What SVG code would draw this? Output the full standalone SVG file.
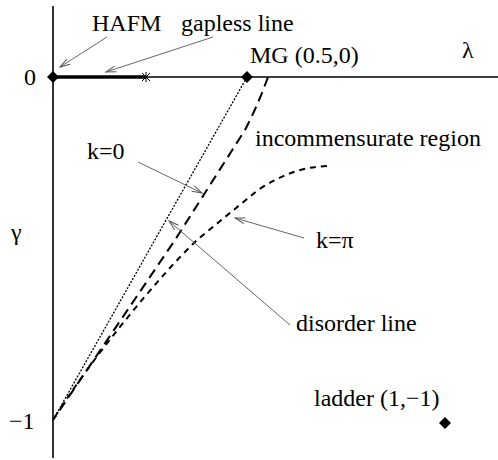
<svg xmlns="http://www.w3.org/2000/svg" width="498" height="460" viewBox="0 0 498 460">
<style>
text{font-family:"Liberation Serif","Times New Roman",serif;font-size:24px;fill:#000}
.ax{stroke:#000;stroke-width:1.6;fill:none}
.lbl{stroke:#666;stroke-width:1;fill:none;marker-end:url(#ah)}
.curve{stroke:#000;fill:none}
</style>
<defs>
<marker id="ah" markerWidth="12" markerHeight="8" refX="11" refY="4" orient="auto" markerUnits="userSpaceOnUse">
<path d="M1,1 L11,4 L1,7" fill="none" stroke="#555" stroke-width="1"/>
</marker>
<path id="dia" d="M0,-6 L6,0 L0,6 L-6,0 Z" fill="#000"/>
</defs>
<g id="axes">
<line class="ax" x1="53" y1="6" x2="53" y2="458"/>
<line class="ax" x1="53" y1="77" x2="498" y2="77" stroke-width="1.4"/>
<line x1="53" y1="77" x2="146" y2="77" stroke="#000" stroke-width="3.5"/>
<path d="M142,73 L150,81 M150,73 L142,81 M146,72 L146,82" stroke="#000" stroke-width="1"/>
<text x="24" y="85" font-size="22">0</text>
<text x="9" y="429" font-size="22">−1</text>
<text x="11" y="240" font-size="22">γ</text>
<text x="462" y="58" font-size="22">λ</text>
</g>
<g id="curves">
<line class="curve" x1="247" y1="77" x2="53" y2="420" stroke-width="1.3" stroke-dasharray="2,1.5"/>
<path class="curve" d="M268,77 Q258,105 245,130 L175,240 L53,420" stroke-width="2" stroke-dasharray="10,6"/>
<path class="curve" d="M327,166 C300,167 280,176 258,190 L197,240 C160,275 90,360 53,420" stroke-width="2" stroke-dasharray="6,5"/>
</g>
<g id="hafm"><use href="#dia" x="53" y="77"/><text x="92" y="31" font-size="22">HAFM</text></g>
<g id="gapless"><text x="181" y="31" font-size="22.5">gapless line</text></g>
<g id="mg"><use href="#dia" x="247" y="77"/><text x="250" y="63">MG (0.5,0)</text></g>
<g id="incomm"><text x="255" y="146">incommensurate region</text></g>
<g id="k0"><text x="87" y="159">k=0</text></g>
<g id="kpi"><text x="316" y="248">k=π</text></g>
<g id="disorder"><text x="296" y="331">disorder line</text></g>
<g id="ladder"><use href="#dia" x="445" y="423"/><text x="314" y="406">ladder (1,−1)</text></g>
<g id="connectors">
<line class="lbl" x1="107" y1="37" x2="60" y2="67"/>
<line class="lbl" x1="213" y1="37" x2="106" y2="72"/>
<line class="lbl" x1="138" y1="162" x2="202" y2="193"/>
<line class="lbl" x1="304" y1="238" x2="235" y2="218"/>
<line class="lbl" x1="290" y1="325" x2="169" y2="221"/>
</g>
</svg>
